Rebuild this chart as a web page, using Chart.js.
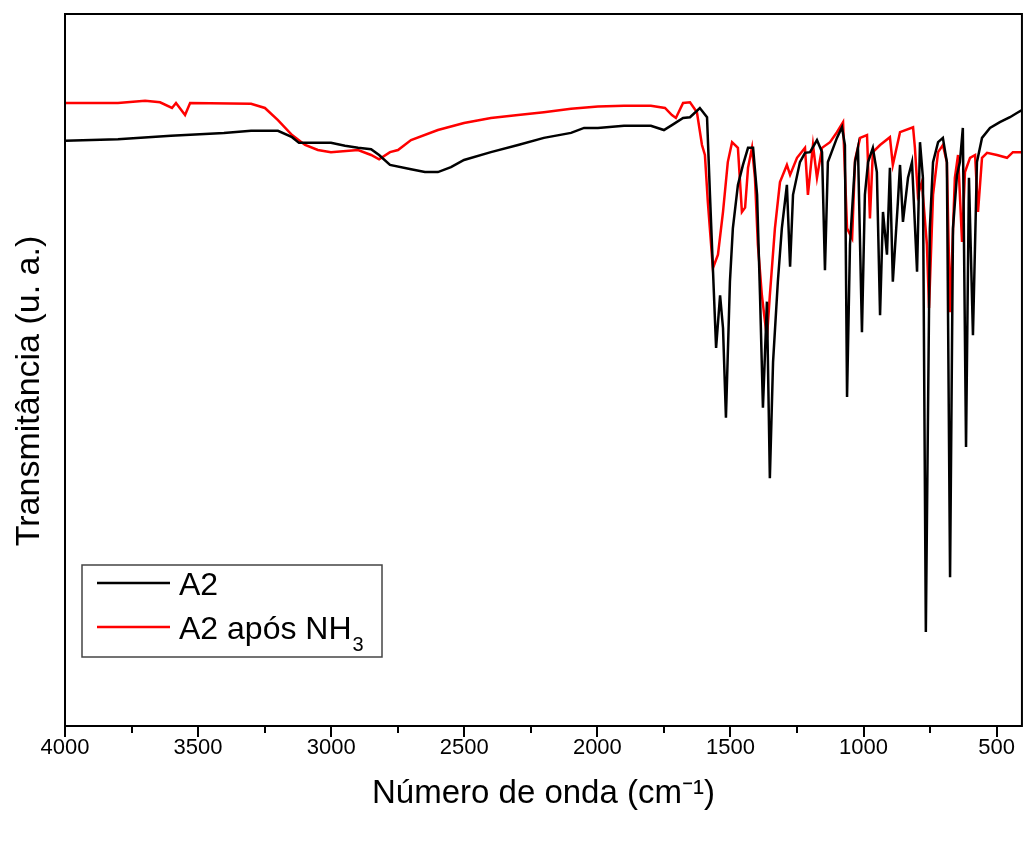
<!DOCTYPE html>
<html>
<head>
<meta charset="utf-8">
<script src="https://cdn.jsdelivr.net/npm/chart.js@4.4.0/dist/chart.umd.min.js"></script>
<style>
    html, body { margin: 0; padding: 0; background: #fff; }
    #wrap { width: 1024px; height: 842px; }
</style>
</head>
<body>
<div id="wrap"><canvas id="irChart" width="1024" height="842"></canvas></div>
<script>
// FTIR spectra (transmittance, arbitrary units 0-100)
const a2Wavenumbers = [4000, 3801, 3602, 3403, 3301, 3200, 3147, 3121, 3001, 2948, 2899, 2850, 2820, 2779, 2700, 2648, 2599, 2550, 2501, 2400, 2298, 2201, 2099, 2050, 1998, 1900, 1799, 1750, 1720, 1678, 1652, 1615, 1588, 1577, 1566, 1554, 1539, 1528, 1517, 1502, 1491, 1472, 1453, 1434, 1415, 1400, 1389, 1378, 1363, 1352, 1340, 1322, 1307, 1288, 1276, 1265, 1239, 1220, 1201, 1175, 1156, 1145, 1134, 1100, 1081, 1070, 1062, 1051, 1032, 1021, 1006, 995, 983, 965, 950, 938, 927, 912, 901, 890, 871, 863, 852, 833, 818, 799, 788, 777, 766, 751, 739, 720, 702, 687, 675, 664, 649, 638, 627, 615, 604, 589, 574, 555, 525, 488, 450, 424, 405];
const a2Transmittance = [82.2, 82.4, 82.9, 83.3, 83.6, 83.6, 82.7, 81.9, 81.9, 81.5, 81.2, 81.0, 80.2, 78.8, 78.2, 77.8, 77.8, 78.5, 79.5, 80.6, 81.6, 82.6, 83.3, 84.0, 84.0, 84.3, 84.3, 83.7, 84.4, 85.4, 85.5, 86.8, 85.5, 74.6, 64.3, 53.1, 60.5, 55.9, 43.3, 62.4, 69.9, 76.0, 78.8, 81.2, 81.2, 74.6, 60.5, 44.7, 59.6, 34.8, 51.1, 62.4, 69.9, 76.0, 64.5, 74.6, 79.2, 80.5, 80.6, 82.3, 80.6, 64.0, 79.2, 82.6, 84.1, 81.6, 46.2, 67.6, 79.2, 81.2, 55.3, 74.6, 79.2, 81.2, 77.8, 57.7, 72.2, 66.2, 78.4, 62.4, 73.6, 78.8, 70.8, 77.0, 79.2, 63.8, 82.0, 77.0, 13.2, 69.9, 79.2, 82.0, 82.6, 79.2, 20.9, 69.9, 77.4, 79.2, 84.0, 39.2, 77.0, 54.9, 79.2, 82.6, 84.0, 84.8, 85.5, 86.1, 86.5];

const nh3Wavenumbers = [4000, 3801, 3699, 3643, 3598, 3583, 3549, 3530, 3301, 3249, 3200, 3147, 3098, 3050, 3001, 2899, 2850, 2820, 2779, 2749, 2700, 2599, 2501, 2400, 2298, 2201, 2099, 1998, 1900, 1799, 1746, 1720, 1705, 1678, 1652, 1626, 1607, 1596, 1585, 1566, 1547, 1528, 1510, 1494, 1472, 1457, 1445, 1434, 1419, 1408, 1397, 1382, 1363, 1352, 1333, 1314, 1288, 1276, 1250, 1220, 1209, 1190, 1175, 1156, 1126, 1100, 1077, 1062, 1043, 1032, 1013, 987, 976, 965, 938, 901, 890, 863, 814, 807, 796, 781, 762, 754, 739, 720, 702, 687, 675, 657, 645, 630, 619, 600, 581, 570, 555, 536, 499, 461, 439, 405];
const nh3Transmittance = [87.5, 87.5, 87.8, 87.6, 86.8, 87.5, 85.8, 87.5, 87.4, 86.8, 85.1, 83.0, 81.6, 80.9, 80.6, 80.9, 80.2, 79.6, 80.6, 80.9, 82.3, 83.7, 84.7, 85.4, 85.8, 86.2, 86.7, 87.0, 87.1, 87.1, 86.8, 85.8, 85.4, 87.5, 87.6, 86.2, 81.6, 80.2, 73.6, 64.3, 66.2, 72.2, 79.2, 82.0, 81.2, 72.2, 72.8, 78.4, 81.2, 77.0, 67.6, 60.5, 54.5, 60.5, 69.9, 76.4, 78.8, 77.4, 79.8, 81.2, 74.6, 81.6, 77.0, 81.2, 82.0, 83.4, 84.8, 69.9, 68.5, 79.5, 82.6, 83.0, 71.3, 80.6, 81.6, 82.7, 78.8, 83.4, 84.1, 81.2, 74.6, 76.4, 67.6, 58.7, 74.6, 80.6, 81.6, 79.2, 58.1, 77.0, 80.2, 68.0, 77.8, 79.8, 80.2, 72.2, 79.8, 80.5, 80.2, 79.8, 80.6, 80.6];

const xMajorTicks = [4000, 3500, 3000, 2500, 2000, 1500, 1000, 500];
const xMinorTicks = [3750, 3250, 2750, 2250, 1750, 1250, 750];
const seriesLabels = ['A2', 'A2 após NH'];
const seriesColors = ['#000000', '#ff0000'];

const FONT = '"Liberation Sans", Arial, sans-serif';

function toPoints(xs, ys) {
    return xs.map((x, i) => ({ x: x, y: ys[i] }));
}

// frame, outward x ticks, y title and the legend box
const decorPlugin = {
    id: 'decor',
    afterDraw(chart) {
        const ctx = chart.ctx;
        const area = chart.chartArea;
        const xs = chart.scales.x;
        ctx.save();
        ctx.strokeStyle = '#000';
        ctx.lineWidth = 2;
        ctx.strokeRect(area.left, area.top, area.right - area.left, area.bottom - area.top);

        xMajorTicks.concat(xMinorTicks).forEach(v => {
            const px = Math.round(xs.getPixelForValue(v));
            const len = xMajorTicks.includes(v) ? 11 : 7;
            ctx.beginPath();
            ctx.moveTo(px, area.bottom);
            ctx.lineTo(px, area.bottom + len);
            ctx.stroke();
        });

        // y title
        ctx.save();
        ctx.translate(30, 391);
        ctx.rotate(-Math.PI / 2);
        ctx.fillStyle = '#000';
        ctx.font = '34px ' + FONT;
        ctx.textAlign = 'center';
        ctx.textBaseline = 'middle';
        ctx.fillText('Transmitância (u. a.)', 0, 0);
        ctx.restore();

        // legend
        ctx.strokeStyle = '#444';
        ctx.lineWidth = 1.5;
        ctx.strokeRect(82, 565, 300, 92);
        ctx.font = '32px ' + FONT;
        ctx.textBaseline = 'alphabetic';
        const rows = [583, 627];
        rows.forEach((y, i) => {
            ctx.strokeStyle = seriesColors[i];
            ctx.lineWidth = 2.5;
            ctx.beginPath();
            ctx.moveTo(97, y);
            ctx.lineTo(170, y);
            ctx.stroke();
            ctx.fillStyle = '#000';
            ctx.fillText(seriesLabels[i], 179, y + 12);
            if (i === 1) {
                const w = ctx.measureText(seriesLabels[i]).width;
                ctx.font = '20px ' + FONT;
                ctx.fillText('3', 179 + w + 1, y + 24);
                ctx.font = '32px ' + FONT;
            }
        });
        ctx.restore();
    }
};

const ctx = document.getElementById('irChart').getContext('2d');
const irChart = new Chart(ctx, {
    type: 'line',
    data: {
        datasets: [
            {
                label: seriesLabels[0],
                data: toPoints(a2Wavenumbers, a2Transmittance),
                borderColor: seriesColors[0],
                borderWidth: 2.5,
                pointRadius: 0,
                tension: 0,
                fill: false
            },
            {
                label: seriesLabels[1],
                data: toPoints(nh3Wavenumbers, nh3Transmittance),
                borderColor: seriesColors[1],
                borderWidth: 2.5,
                pointRadius: 0,
                tension: 0,
                fill: false
            }
        ]
    },
    options: {
        responsive: false,
        animation: false,
        devicePixelRatio: 1,
        layout: {
            padding: { top: 14, right: 0, left: 0, bottom: 0 }
        },
        scales: {
            x: {
                type: 'linear',
                reverse: true,
                min: 405,
                max: 4000,
                afterBuildTicks: (scale) => {
                    scale.ticks = xMajorTicks.map(v => ({ value: v }));
                },
                afterFit: (scale) => { scale.height = 116; },
                grid: { display: true, drawOnChartArea: false, drawTicks: false },
                border: { display: false },
                ticks: {
                    maxRotation: 0,
                    padding: 9,
                    color: '#000',
                    callback: (v) => String(v),
                    font: { family: FONT, size: 22 }
                },
                title: {
                    display: true,
                    text: 'Número de onda (cm⁻¹)',
                    color: '#000',
                    padding: { top: 0, bottom: 28 },
                    font: { family: FONT, size: 33 }
                }
            },
            y: {
                min: 0,
                max: 100,
                afterFit: (scale) => { scale.width = 65; },
                grid: { display: false },
                border: { display: false },
                ticks: { display: false },
                title: { display: false }
            }
        },
        plugins: {
            legend: { display: false },
            tooltip: { enabled: false }
        }
    },
    plugins: [decorPlugin]
});
</script>
</body>
</html>
